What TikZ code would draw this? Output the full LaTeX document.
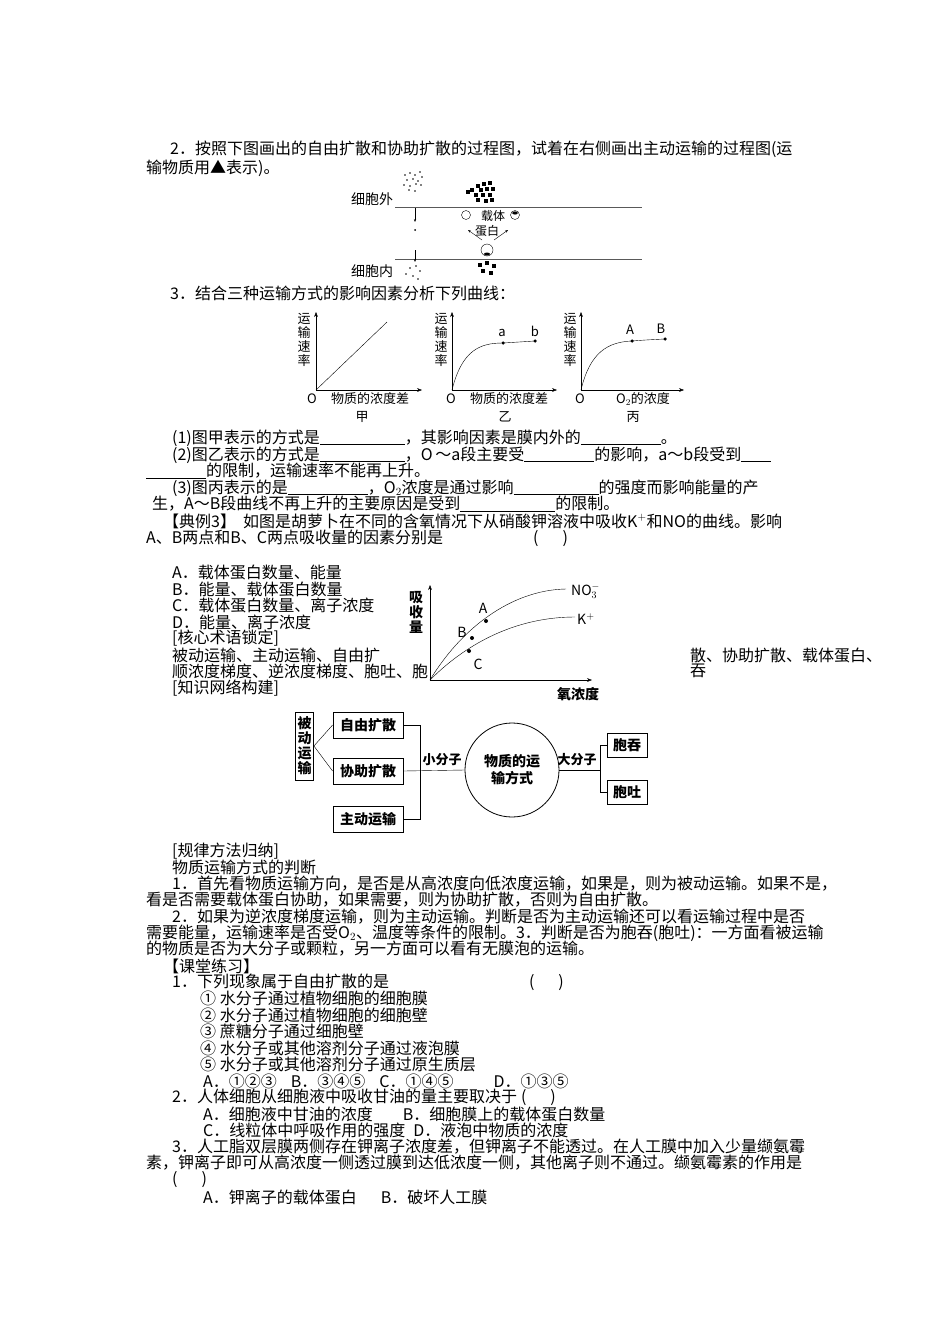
\documentclass[tikz,border=0pt]{standalone}
\usepackage{fontspec}
\setmainfont{Noto Sans CJK SC}
\usetikzlibrary{arrows.meta}
\begin{document}
\begin{tikzpicture}[x=1pt,y=-1pt,
 t/.style={anchor=west,inner sep=0pt,font=\fontsize{16}{17}\selectfont},
 s/.style={inner sep=0pt,font=\fontsize{14}{15}\selectfont},
 bx/.style={draw,thick,inner sep=3pt,font=\fontsize{14}{15}\bfseries\selectfont},
 ax/.style={-{Stealth[length=5pt]},thin},
 dot/.style={circle,fill,inner sep=0pt,minimum size=4pt}]
\useasboundingbox (0,0) rectangle (950,1344);
% text lines
\node[t] (l1) at (170,149) {2．按照下图画出的自由扩散和协助扩散的过程图，试着在右侧画出主动运输的过程图(运};
\node[t] (l2) at (146,168) {输物质用▲表示)。};
% cell figure
\draw[thick,gray!70!black] (395,207) -- (642,207);
\draw[thick,gray!70!black] (395,259) -- (642,259);
\node[s] (out) at (372,199) {细胞外};
\node[s] (in) at (372,271) {细胞内};
\foreach \p in {(405,175),(410,173),(415,175),(420,172),(407,180),(413,179),(418,181),(422,177),(404,185),(410,186),(416,184),(421,185),(409,190),(415,191)} \fill \p circle (0.9);
\draw[-{Stealth[length=3pt]}] (415,208) -- (415,222);
\fill (415,230) circle (1);
\draw[-{Stealth[length=3pt]}] (415,250) -- (415,262);
\foreach \p in {(410,268),(416,266),(420,271),(406,274),(413,276),(418,279)} \fill \p circle (0.9);
\foreach \p in {(478,186),(484,184),(490,183),(472,190),(481,190),(487,189),(493,189),(476,195),(483,195),(490,195),(478,200),(486,201),(492,200),(468,192)} \fill \p ++(-1.6,-1.6) rectangle ++(3.2,3.2);
\draw (466,215) circle (4.5); \draw (515,215) circle (4.5);
\fill (515,213) ellipse (2.8 and 1.6);
\node[s,font=\fontsize{12}{13}\selectfont] (car) at (493,216) {载体};
\node[s,font=\fontsize{12}{13}\selectfont] (pro) at (487,231) {蛋白};
\draw[-{Stealth[length=3pt]}] (482,240) -- (468,230);
\draw[-{Stealth[length=3pt]}] (494,240) -- (508,230);
\draw (487,250) circle (6); \fill (487,254) ellipse (3 and 1.5);
\foreach \p in {(480,265),(487,263),(494,266),(483,271),(491,273)} \fill \p ++(-1.6,-1.6) rectangle ++(3.2,3.2);
\node[t] (l3) at (170,293) {3．结合三种运输方式的影响因素分析下列曲线：};
% graph jia
\coordinate (o1) at (316,390);
\draw[ax] (o1) -- (316,312); \draw[ax] (o1) -- (422,390);
\draw (o1) -- (387,322);
\node[s,align=center,font=\fontsize{13}{14}\selectfont] (y1) at (304,340) {运\\输\\速\\率};
\node[s,font=\itshape\fontsize{13}{14}\selectfont] (O1) at (312,399) {O};
\node[s,font=\fontsize{13}{14}\selectfont] (x1) at (370,399) {物质的浓度差};
\node[s,font=\fontsize{13}{14}\selectfont] (j1) at (362,417) {甲};
% graph yi
\coordinate (o2) at (452,390);
\draw[ax] (o2) -- (452,312); \draw[ax] (o2) -- (557,390);
\draw (o2) .. controls (462,350) and (480,343) .. (503,343) -- (535,341);
\node[dot,minimum size=3.5pt] (pa) at (503,343) {}; \node[dot,minimum size=3.5pt] (pb) at (535,341) {};
\node[s,font=\fontsize{13}{14}\selectfont] at (502,333) {a};
\node[s,font=\fontsize{13}{14}\selectfont] at (535,331) {b};
\node[s,align=center,font=\fontsize{13}{14}\selectfont] (y2) at (441,340) {运\\输\\速\\率};
\node[s,font=\itshape\fontsize{13}{14}\selectfont] (O2) at (451,399) {O};
\node[s,font=\fontsize{13}{14}\selectfont] (x2) at (509,399) {物质的浓度差};
\node[s,font=\fontsize{13}{14}\selectfont] (j2) at (505,417) {乙};
% graph bing
\coordinate (o3) at (581,390);
\draw[ax] (o3) -- (581,312); \draw[ax] (o3) -- (684,390);
\draw (o3) .. controls (590,352) and (608,342) .. (632,341) .. controls (645,340) .. (665,339);
\node[dot,minimum size=3.5pt] (pA) at (632,341) {}; \node[dot,minimum size=3.5pt] (pB) at (665,339) {};
\node[s,font=\fontsize{13}{14}\selectfont] at (630,330) {A};
\node[s,font=\fontsize{13}{14}\selectfont] at (661,329) {B};
\node[s,align=center,font=\fontsize{13}{14}\selectfont] (y3) at (570,340) {运\\输\\速\\率};
\node[s,font=\itshape\fontsize{13}{14}\selectfont] (O3) at (580,399) {O};
\node[s,font=\fontsize{13}{14}\selectfont] (x3) at (643,399) {O$_2$的浓度};
\node[s,font=\fontsize{13}{14}\selectfont] (j3) at (633,417) {丙};
% questions
\node[t] at (172,438) {(1)图甲表示的方式是\underline{\hspace{85pt}}，其影响因素是膜内外的\underline{\hspace{80pt}}。};
\node[t] at (172,455) {(2)图乙表示的方式是\underline{\hspace{85pt}}，\textit{O}\,～a段主要受\underline{\hspace{70pt}}的影响，a～b段受到\underline{\hspace{30pt}}};
\node[t] at (146,471) {\underline{\hspace{60pt}}的限制，运输速率不能再上升。};
\node[t] at (172,488) {(3)图丙表示的是\underline{\hspace{80pt}}，O$_2$浓度是通过影响\underline{\hspace{85pt}}的强度而影响能量的产};
\node[t] at (152,504) {生，A～B段曲线不再上升的主要原因是受到\underline{\hspace{95pt}}的限制。};
\node[t] at (163,521) {【典例3】\ \ 如图是胡萝卜在不同的含氧情况下从硝酸钾溶液中吸收K$^+$和NO的曲线。影响};
\node[t] at (146,538) {A、B两点和B、C两点吸收量的因素分别是\hspace{90pt}(\hspace{24pt})};
\node[t] at (172,572) {A．载体蛋白数量、能量};
\node[t] at (172,589) {B．能量、载体蛋白数量};
\node[t] at (172,605) {C．载体蛋白数量、离子浓度};
\node[t] at (172,622) {D．能量、离子浓度};
\node[t] at (172,638) {[核心术语锁定]};
\node[t] at (172,655) {被动运输、主动运输、自由扩};
\node[t] at (172,671) {顺浓度梯度、逆浓度梯度、胞吐、胞};
\node[t] at (690,655) {散、协助扩散、载体蛋白、};
\node[t] at (690,671) {吞};
\node[t] at (172,688) {[知识网络构建]};
% absorption graph
\coordinate (o4) at (430,680);
\draw[ax] (o4) -- (430,585); \draw[ax] (o4) -- (592,680);
\draw (o4) .. controls (460,630) and (510,590) .. (566,589);
\draw (o4) .. controls (470,640) and (520,617) .. (575,617);
\node[dot] (A4) at (486,621) {}; \node[dot] (B4) at (472,638) {}; \node[dot] (C4) at (469,651) {};
\node[s] at (483,608) {A}; \node[s] at (462,632) {B}; \node[s] at (478,664) {C};
\node[s,anchor=west] (no3) at (571,591) {NO$_3^-$};
\node[s,anchor=west] (kp) at (577,619) {K$^+$};
\node[s,align=center,font=\fontsize{14}{15}\bfseries\selectfont] (y4) at (416,612) {吸\\收\\量};
\node[s,font=\fontsize{14}{15}\bfseries\selectfont] (x4) at (578,694) {氧浓度};
% network
\node[bx,align=center,minimum height=68pt,text width=14pt,inner sep=2pt] (bd) at (304.5,746) {被\\动\\运\\输};
\node[bx,minimum width=70pt,minimum height=26pt] (zy) at (368,725) {自由扩散};
\node[bx,minimum width=70pt,minimum height=26pt] (xz) at (368,771) {协助扩散};
\node[bx,minimum width=70pt,minimum height=26pt] (zd) at (368,819) {主动运输};
\node[draw,thick,circle,minimum size=94pt,align=center,inner sep=0pt,font=\fontsize{14}{17}\bfseries\selectfont] (wz) at (512,770) {物质的运\\输方式};
\node[bx,minimum width=40pt,minimum height=24pt] (ct) at (627,745) {胞吞};
\node[bx,minimum width=40pt,minimum height=24pt] (cu) at (627,792) {胞吐};
\draw (bd.east) -- (zy.west); \draw (bd.east) -- (xz.west);
\draw (zy.east) -- (420,725) -- (420,819) -- (zd.east);
\draw (xz.east) -- (wz.west);
\node[s,font=\fontsize{13}{14}\bfseries\selectfont] (xf) at (442,760) {小分子};
\draw (wz.east) -- (600,770);
\node[s,font=\fontsize{13}{14}\bfseries\selectfont] (df) at (577,760) {大分子};
\draw (ct.west) -- (600,745) -- (600,792) -- (cu.west);
% bottom text
\node[t] at (172,851) {[规律方法归纳]};
\node[t] at (172,867) {物质运输方式的判断};
\node[t] at (172,884) {1．首先看物质运输方向，是否是从高浓度向低浓度运输，如果是，则为被动运输。如果不是，};
\node[t] at (146,900) {看是否需要载体蛋白协助，如果需要，则为协助扩散，否则为自由扩散。};
\node[t] at (172,917) {2．如果为逆浓度梯度运输，则为主动运输。判断是否为主动运输还可以看运输过程中是否};
\node[t] at (146,933) {需要能量，运输速率是否受O$_2$、温度等条件的限制。3．判断是否为胞吞(胞吐)：一方面看被运输};
\node[t] at (146,949) {的物质是否为大分子或颗粒，另一方面可以看有无膜泡的运输。};
\node[t] at (163,966) {【课堂练习】};
\node[t] at (172,982) {1．下列现象属于自由扩散的是\hspace{140pt}(\hspace{24pt})};
\node[t] at (200,998) {① 水分子通过植物细胞的细胞膜};
\node[t] at (200,1015) {② 水分子通过植物细胞的细胞壁};
\node[t] at (200,1031) {③ 蔗糖分子通过细胞壁};
\node[t] at (200,1048) {④ 水分子或其他溶剂分子通过液泡膜};
\node[t] at (200,1064) {⑤ 水分子或其他溶剂分子通过原生质层};
\node[t] at (203,1081) {A．①②③\hspace{14pt}B．③④⑤\hspace{14pt}C．①④⑤\hspace{40pt}D．①③⑤};
\node[t] at (172,1097) {2．人体细胞从细胞液中吸收甘油的量主要取决于\hspace{4pt}(\hspace{24pt})};
\node[t] at (203,1114) {A．细胞液中甘油的浓度\hspace{30pt}B．细胞膜上的载体蛋白数量};
\node[t] at (203,1130) {C．线粒体中呼吸作用的强度\hspace{8pt}D．液泡中物质的浓度};
\node[t] at (172,1147) {3．人工脂双层膜两侧存在钾离子浓度差，但钾离子不能透过。在人工膜中加入少量缬氨霉};
\node[t] at (146,1163) {素，钾离子即可从高浓度一侧透过膜到达低浓度一侧，其他离子则不通过。缬氨霉素的作用是};
\node[t] at (172,1180) {(\hspace{24pt})};
\node[t] at (203,1197) {A．钾离子的载体蛋白\hspace{24pt}B．破坏人工膜};
\end{tikzpicture}
\end{document}
